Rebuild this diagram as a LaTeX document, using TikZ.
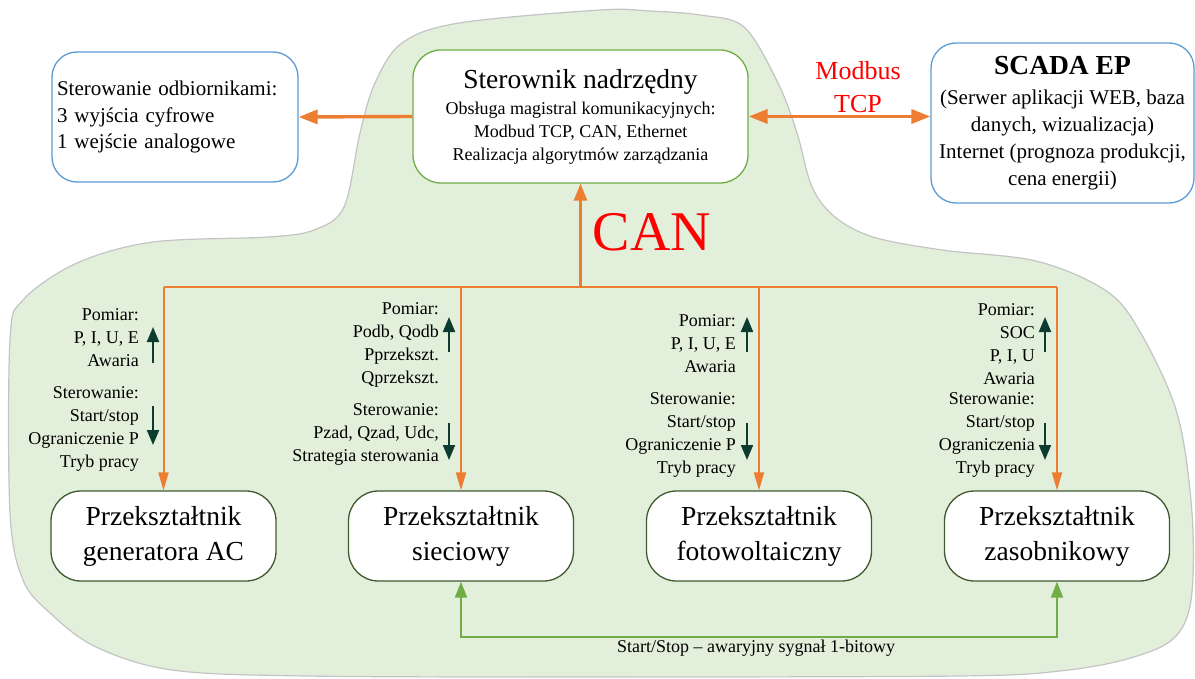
\documentclass[tikz,border=0pt]{standalone}
\usepackage{fontspec}
\setmainfont{Liberation Serif}
\usetikzlibrary{arrows.meta}
\definecolor{orng}{HTML}{ED7D31}
\definecolor{lgreen}{HTML}{70AD47}
\definecolor{boxblue}{HTML}{5B9BD5}
\definecolor{dkbord}{HTML}{3F5A30}
\definecolor{dkarrow}{HTML}{0D3B2F}
\definecolor{blobfill}{HTML}{E2EFDA}
\definecolor{blobline}{HTML}{C4C4C4}
\begin{document}
\begin{tikzpicture}[x=1pt,y=-1pt,
  blob/.style={fill=blobfill, draw=blobline, line width=1.2pt},
  bluebox/.style={draw=boxblue, line width=1.3pt, rounded corners=25pt, fill=white},
  topbox/.style={draw=lgreen, line width=1.3pt, rounded corners=28pt, fill=white},
  convbox/.style={draw=dkbord, line width=1.3pt, rounded corners=30pt, fill=white,
    minimum width=225pt, minimum height=90pt, align=center, inner sep=0pt,
    font=\fontsize{27.5}{35}\selectfont},
  lbl/.style={align=right, inner sep=0pt, font=\fontsize{18}{23}\selectfont},
  busline/.style={draw=orng, line width=2pt},
  droparrow/.style={draw=orng, line width=2pt, -{Triangle[length=18pt,width=10pt]}},
  canarrow/.style={draw=orng, line width=2.5pt, -{Triangle[length=17pt,width=13pt]}},
  bigarrow/.style={draw=orng, line width=3.4pt, -{Triangle[length=19pt,width=14pt]}},
  bigdarrow/.style={draw=orng, line width=3.4pt, {Triangle[length=19pt,width=14pt]}-{Triangle[length=19pt,width=14pt]}},
  greenarrow/.style={draw=lgreen, line width=2pt, {Triangle[length=16pt,width=12pt]}-{Triangle[length=16pt,width=12pt]}},
  darrow/.style={draw=dkarrow, line width=2pt, -{Triangle[length=15pt,width=12pt]}}
]
\useasboundingbox (0,0) rectangle (1195,679);

% background blob
\draw[blob] plot[smooth cycle, tension=0.55] coordinates {
 (600,10) (459,23) (402,43) (375,83) (360,133) (344,207) (314,230) (268,237)
 (153,242) (77,263) (23,300) (10,340) (10,513) (23,580) (50,613) (96,647)
 (172,670) (306,676) (600,677) (960,676) (1060,671) (1127,659) (1173,639)
 (1191,600) (1192,513) (1177,413) (1139,330) (1105,290) (1036,261) (942,250)
 (873,237) (835,217) (812,187) (797,133) (778,83) (744,27) (700,15) (650,11)};

% top row
\node[bluebox, minimum width=246pt, minimum height=130pt, text width=236pt,
  inner xsep=5pt, align=left, font=\fontsize{21}{26.5}\selectfont] (odb) at (175,117)
  {Sterowanie odbiornikami:\\3 wyjścia cyfrowe\\1 wejście analogowe};

\node[topbox, minimum width=335pt, minimum height=133pt, align=center,
  font=\fontsize{18}{23}\selectfont] (ctrl) at (580.5,116.5)
  {{\fontsize{27.5}{30}\selectfont Sterownik nadrzędny}\\[3pt]
   Obsługa magistral komunikacyjnych:\\Modbud TCP, CAN, Ethernet\\Realizacja algorytmów zarządzania};

\node[bluebox, minimum width=263pt, minimum height=160pt, align=center,
  font=\fontsize{21}{27}\selectfont] (scada) at (1062.5,123)
  {{\bfseries\fontsize{27.5}{27}\selectfont SCADA EP}\\[3pt]
   (Serwer aplikacji WEB, baza\\danych, wizualizacja)\\Internet (prognoza produkcji,\\cena energii)};

\node[text=red, align=center, font=\fontsize{26}{33}\selectfont] (mb) at (858,87) {Modbus\\TCP};
\node[text=red, font=\fontsize{56}{56}\selectfont] (can) at (652,232) {CAN};

\draw[bigarrow] (ctrl.west) -- (odb.east);
\draw[bigdarrow] (ctrl.east) -- (ctrl.east -| scada.west);

% converters
\node[convbox] (ac) at (163.5,536) {Przekształtnik\\generatora AC};
\node[convbox] (siec) at (461,536) {Przekształtnik\\sieciowy};
\node[convbox] (fv) at (759,536) {Przekształtnik\\fotowoltaiczny};
\node[convbox] (zas) at (1057,536) {Przekształtnik\\zasobnikowy};

% CAN bus
\coordinate (bAC) at (163.5,287);
\coordinate (bSI) at (461,287);
\coordinate (bCT) at (580.5,287);
\coordinate (bFV) at (759,287);
\coordinate (bZS) at (1057,287);
\draw[busline] (bAC) -- (bZS);
\draw[canarrow] (bCT) -- (ctrl.south);
\draw[droparrow] (bAC) -- (ac.north);
\draw[droparrow] (bSI) -- (siec.north);
\draw[droparrow] (bFV) -- (fv.north);
\draw[droparrow] (bZS) -- (zas.north);

% emergency line
\draw[greenarrow] (siec.south) -- ++(0,55) -| (zas.south);
\node[anchor=west, inner sep=0pt, font=\fontsize{18}{22}\selectfont] (ss) at (617,648)
  {Start/Stop – awaryjny sygnał 1-bitowy};

% labels
\node[lbl, anchor=east] (m1) at (139,337.7) {Pomiar:\\P, I, U, E\\Awaria};
\node[lbl, anchor=east] (s1) at (139,428.5) {Sterowanie:\\Start/stop\\Ograniczenie P\\Tryb pracy};
\node[lbl, anchor=east] (m2) at (439,344.5) {Pomiar:\\Podb, Qodb\\Pprzekszt.\\Qprzekszt.};
\node[lbl, anchor=east] (s2) at (439,434) {Sterowanie:\\Pzad, Qzad, Udc,\\Strategia sterowania};
\node[lbl, anchor=east] (m3) at (736,344) {Pomiar:\\P, I, U, E\\Awaria};
\node[lbl, anchor=east] (s3) at (736,434.5) {Sterowanie:\\Start/stop\\Ograniczenie P\\Tryb pracy};
\node[lbl, anchor=east] (m4) at (1035,344.5) {Pomiar:\\SOC\\P, I, U\\Awaria};
\node[lbl, anchor=east] (s4) at (1035,434.5) {Sterowanie:\\Start/stop\\Ograniczenia\\Tryb pracy};

% small direction arrows
\draw[darrow] (153,363) -- (153,327);
\draw[darrow] (153,406) -- (153,445);
\draw[darrow] (449,352) -- (449,317);
\draw[darrow] (449,423) -- (449,460);
\draw[darrow] (747,352) -- (747,317);
\draw[darrow] (747,423) -- (747,460);
\draw[darrow] (1045,352) -- (1045,317);
\draw[darrow] (1045,423) -- (1045,460);
\end{tikzpicture}
\end{document}
